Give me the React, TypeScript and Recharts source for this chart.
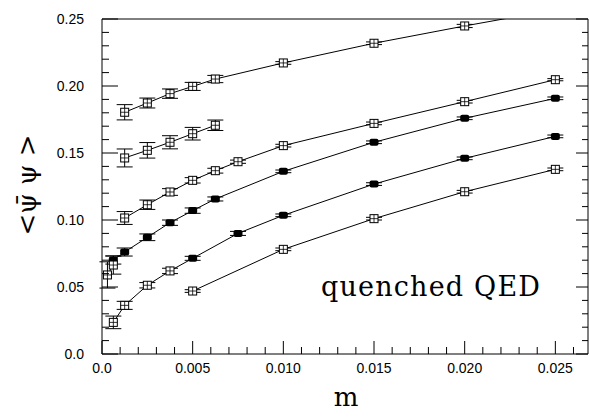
import { LineChart, Line, XAxis, YAxis, ErrorBar } from "recharts";

// bare mass m and <psibar psi>, one list per data set
const massA = [0.00125, 0.0025, 0.00375, 0.005, 0.00625, 0.01, 0.015, 0.02, 0.025];
const condA = [0.1804, 0.1873, 0.1943, 0.1997, 0.2052, 0.2172, 0.2319, 0.2448, 0.257];
const errA = [0.0057, 0.0037, 0.0035, 0.003, 0.0027, 0.001, 0.001, 0.0012, 0.001];

const massB = [0.00125, 0.0025, 0.00375, 0.005, 0.00625];
const condB = [0.1463, 0.152, 0.158, 0.1644, 0.1707];
const errB = [0.0067, 0.0058, 0.0049, 0.0047, 0.0039];

const massC = [0.00125, 0.0025, 0.00375, 0.005, 0.00625, 0.0075, 0.01, 0.015, 0.02, 0.025];
const condC = [0.1015, 0.1114, 0.1209, 0.1296, 0.1368, 0.1435, 0.1555, 0.1721, 0.1883, 0.2047];
const errC = [0.0048, 0.0035, 0.0025, 0.002, 0.0018, 0.0012, 0.001, 0.001, 0.001, 0.0008];

const massD = [0.000625, 0.00125, 0.0025, 0.00375, 0.005, 0.00625, 0.01, 0.015, 0.02, 0.025];
const condD = [0.0701, 0.0761, 0.0871, 0.098, 0.107, 0.1157, 0.1363, 0.158, 0.1759, 0.1908];
const errD = [0.003, 0.003, 0.0025, 0.002, 0.002, 0.0015, 0.001, 0.001, 0.001, 0.001];

const massD2 = [0.0003, 0.000625];
const condD2 = [0.059, 0.0664];
const errD2 = [0.0098, 0.0068];

const massE = [0.000625, 0.00125, 0.0025, 0.00375, 0.005, 0.0075, 0.01, 0.015, 0.02, 0.025];
const condE = [0.0236, 0.0363, 0.0513, 0.062, 0.0714, 0.09, 0.1035, 0.1268, 0.146, 0.1624];
const errE = [0.0047, 0.003, 0.002, 0.002, 0.0015, 0.0015, 0.001, 0.001, 0.001, 0.001];

const massF = [0.005, 0.01, 0.015, 0.02, 0.025];
const condF = [0.047, 0.0781, 0.101, 0.1211, 0.1378];
const errF = [0.001, 0.001, 0.001, 0.001, 0.001];

const xMajor = [0, 0.005, 0.01, 0.015, 0.02, 0.025];
const xTicks = [
  0, 0.001, 0.002, 0.003, 0.004, 0.005, 0.006, 0.007, 0.008, 0.009, 0.01, 0.011, 0.012, 0.013,
  0.014, 0.015, 0.016, 0.017, 0.018, 0.019, 0.02, 0.021, 0.022, 0.023, 0.024, 0.025, 0.026,
];
const xLabels = ["0.0", "0.005", "0.010", "0.015", "0.020", "0.025"];

const yMajor = [0, 0.05, 0.1, 0.15, 0.2, 0.25];
const yTicks = [
  0, 0.01, 0.02, 0.03, 0.04, 0.05, 0.06, 0.07, 0.08, 0.09, 0.1, 0.11, 0.12, 0.13, 0.14, 0.15,
  0.16, 0.17, 0.18, 0.19, 0.2, 0.21, 0.22, 0.23, 0.24, 0.25,
];
const yLabels = ["0.0", "0.05", "0.10", "0.15", "0.20", "0.25"];

const Y_MAX = 0.25;
const X_MAX = 0.0268;

const rows = (m: number[], v: number[], e: number[]) =>
  m.map((x, i) => ({ m: x, v: v[i], err: e[i] }));

// solidFrom: points at m >= this get a filled marker
const series = [
  { id: "A", data: rows(massA, condA, errA), solidFrom: Infinity },
  { id: "B", data: rows(massB, condB, errB), solidFrom: Infinity },
  { id: "C", data: rows(massC, condC, errC), solidFrom: Infinity },
  { id: "D", data: rows(massD, condD, errD), solidFrom: 0 },
  { id: "D2", data: rows(massD2, condD2, errD2), solidFrom: Infinity },
  { id: "E", data: rows(massE, condE, errE), solidFrom: 0.005 },
  { id: "F", data: rows(massF, condF, errF), solidFrom: Infinity },
];

const tickFont = "'Liberation Sans', Arial, sans-serif";
const near = (list: number[], v: number) => list.findIndex((t) => Math.abs(t - v) < 1e-9);

// no error bar for points that fall outside the frame
const visibleErr = (d: any) => (d.v > Y_MAX ? undefined : d.err);

function BottomTick({ x, y, payload }: any) {
  const k = near(xMajor, payload.value);
  return (
    <g>
      <line x1={x} y1={y} x2={x} y2={y - (k >= 0 ? 13 : 7)} stroke="#000" />
      {k >= 0 && (
        <text x={x} y={y + 19} textAnchor="middle" fontSize={14} fontFamily={tickFont} fill="#000">
          {xLabels[k]}
        </text>
      )}
    </g>
  );
}

function TopTick({ x, y, payload }: any) {
  const k = near(xMajor, payload.value);
  return <line x1={x} y1={y} x2={x} y2={y + (k >= 0 ? 13 : 7)} stroke="#000" />;
}

function LeftTick({ x, y, payload }: any) {
  const k = near(yMajor, payload.value);
  return (
    <g>
      <line x1={x} y1={y} x2={x + (k >= 0 ? 16 : 7)} y2={y} stroke="#000" />
      {k >= 0 && (
        <text x={x - 18} y={y + 5} textAnchor="end" fontSize={14} fontFamily={tickFont} fill="#000">
          {yLabels[k]}
        </text>
      )}
    </g>
  );
}

function RightTick({ x, y, payload }: any) {
  const k = near(yMajor, payload.value);
  return <line x1={x} y1={y} x2={x - (k >= 0 ? 12 : 6)} y2={y} stroke="#000" />;
}

function marker(p: any, id: string, solidFrom: number) {
  const { cx, cy, payload, index } = p;
  const key = `${id}-${index}`;
  if (cx == null || cy == null || payload.v > Y_MAX) return <g key={key} />;
  if (payload.m >= solidFrom) {
    return <rect key={key} x={cx - 4.5} y={cy - 3.5} width={9} height={7} rx={2} fill="#000" />;
  }
  return (
    <g key={key}>
      <rect x={cx - 4} y={cy - 4} width={8} height={8} fill="#fff" stroke="#000" strokeWidth={1} />
      <line x1={cx - 4} y1={cy} x2={cx + 4} y2={cy} stroke="#000" strokeWidth={0.8} />
      <line x1={cx} y1={cy - 4} x2={cx} y2={cy + 4} stroke="#000" strokeWidth={0.8} />
    </g>
  );
}

export default function App() {
  return (
    <div style={{ position: "absolute", left: 0, top: 0, width: 589, height: 417, background: "#fff" }}>
      <LineChart width={589} height={417} margin={{ top: 18, right: 0, bottom: 0, left: 0 }}>
        <XAxis
          xAxisId="bottom"
          dataKey="m"
          type="number"
          domain={[0, X_MAX]}
          allowDataOverflow
          ticks={xTicks}
          interval={0}
          height={63}
          tickSize={0}
          tickMargin={0}
          tickLine={false}
          axisLine={{ stroke: "#000" }}
          tick={(p: any) => <BottomTick {...p} />}
        />
        <XAxis
          xAxisId="top"
          orientation="top"
          type="number"
          domain={[0, X_MAX]}
          allowDataOverflow
          ticks={xTicks}
          interval={0}
          height={1}
          tickSize={0}
          tickMargin={0}
          tickLine={false}
          axisLine={{ stroke: "#000" }}
          tick={(p: any) => <TopTick {...p} />}
        />
        <YAxis
          yAxisId="left"
          type="number"
          domain={[0, Y_MAX]}
          allowDataOverflow
          ticks={yTicks}
          interval={0}
          width={102}
          tickSize={0}
          tickMargin={0}
          tickLine={false}
          axisLine={{ stroke: "#000" }}
          tick={(p: any) => <LeftTick {...p} />}
        />
        <YAxis
          yAxisId="right"
          orientation="right"
          type="number"
          domain={[0, Y_MAX]}
          allowDataOverflow
          ticks={yTicks}
          interval={0}
          width={1}
          tickSize={0}
          tickMargin={0}
          tickLine={false}
          axisLine={{ stroke: "#000" }}
          tick={(p: any) => <RightTick {...p} />}
        />
        {series.map((s) => (
          <Line
            key={s.id}
            xAxisId="bottom"
            yAxisId="left"
            data={s.data}
            dataKey="v"
            stroke="#000"
            strokeWidth={1}
            isAnimationActive={false}
            activeDot={false}
            dot={(p: any) => marker(p, s.id, s.solidFrom)}
          >
            <ErrorBar
              dataKey={visibleErr}
              direction="y"
              width={8}
              stroke="#000"
              strokeWidth={1}
              isAnimationActive={false}
            />
          </Line>
        ))}
      </LineChart>
      <svg
        width={589}
        height={417}
        style={{ position: "absolute", left: 0, top: 0, pointerEvents: "none" }}
      >
        <text
          x={321}
          y={296}
          fontSize={27}
          fontFamily="'DejaVu Serif', serif"
          textLength={219}
          lengthAdjust="spacing"
          fill="#000"
        >
          quenched QED
        </text>
        <text x={346} y={406} fontSize={26} fontFamily="'DejaVu Serif', serif" textAnchor="middle" fill="#000">
          m
        </text>
        <text
          x={0}
          y={0}
          transform="translate(36,185) rotate(-90)"
          fontSize={26}
          fontFamily="'DejaVu Serif', serif"
          textAnchor="middle"
          fill="#000"
        >
          {"<ψ\u0304 ψ >"}
        </text>
      </svg>
    </div>
  );
}
